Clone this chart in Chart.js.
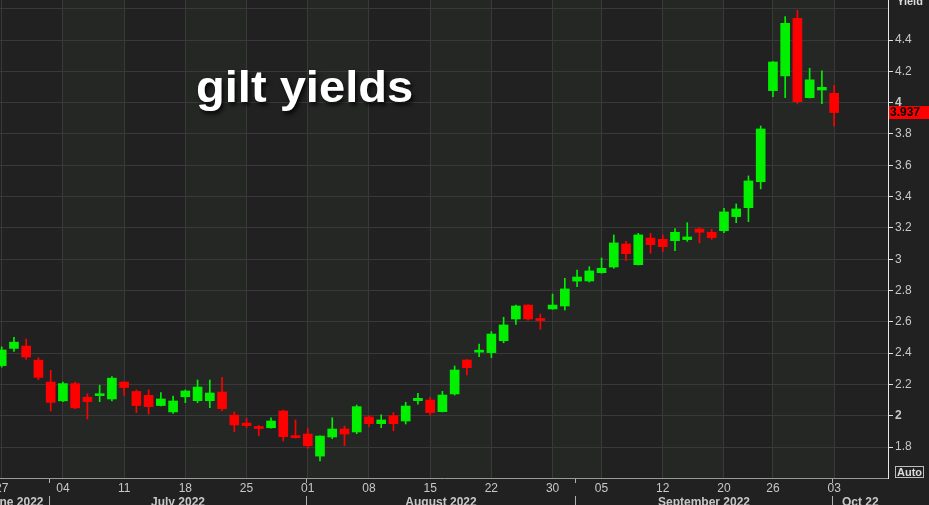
<!DOCTYPE html>
<html>
<head>
<meta charset="utf-8">
<title>gilt yields</title>
<script src="https://cdn.jsdelivr.net/npm/chart.js@4.4.1/dist/chart.umd.min.js"></script>
<style>
  html, body { margin: 0; padding: 0; background: #212122; overflow: hidden; }
  #wrap { position: relative; width: 929px; height: 505px; }
</style>
</head>
<body>
<div id="wrap"><canvas id="candles"></canvas></div>
<script>
// trading days shown (UK gilt market, 27 Jun - 3 Oct 2022)
var days = [
  "2022-06-27", "2022-06-28", "2022-06-29", "2022-06-30", "2022-07-01",
  "2022-07-04", "2022-07-05", "2022-07-06", "2022-07-07", "2022-07-08",
  "2022-07-11", "2022-07-12", "2022-07-13", "2022-07-14", "2022-07-15",
  "2022-07-18", "2022-07-19", "2022-07-20", "2022-07-21", "2022-07-22",
  "2022-07-25", "2022-07-26", "2022-07-27", "2022-07-28", "2022-07-29",
  "2022-08-01", "2022-08-02", "2022-08-03", "2022-08-04", "2022-08-05",
  "2022-08-08", "2022-08-09", "2022-08-10", "2022-08-11", "2022-08-12",
  "2022-08-15", "2022-08-16", "2022-08-17", "2022-08-18", "2022-08-19",
  "2022-08-22", "2022-08-23", "2022-08-24", "2022-08-25", "2022-08-26",
  "2022-08-30", "2022-08-31", "2022-09-01", "2022-09-02",
  "2022-09-05", "2022-09-06", "2022-09-07", "2022-09-08", "2022-09-09",
  "2022-09-12", "2022-09-13", "2022-09-14", "2022-09-15", "2022-09-16",
  "2022-09-20", "2022-09-21", "2022-09-22", "2022-09-23",
  "2022-09-26", "2022-09-27", "2022-09-28", "2022-09-29", "2022-09-30",
  "2022-10-03"
];

var opens = [2.32, 2.43, 2.445, 2.355, 2.215, 2.095, 2.205, 2.118, 2.128, 2.107,
  2.215, 2.155, 2.13, 2.065, 2.024, 2.121, 2.096, 2.096, 2.151, 2.004,
  1.953, 1.921, 1.923, 2.03, 1.87, 1.883, 1.742, 1.864, 1.915, 1.896,
  1.992, 1.949, 2.0, 1.966, 2.096, 2.1, 2.026, 2.139, 2.356, 2.406,
  2.403, 2.479, 2.618, 2.707, 2.612, 2.682, 2.701, 2.86, 2.861, 2.914,
  2.95, 3.097, 2.965, 3.135, 3.127, 3.118, 3.125, 3.193, 3.172, 3.182,
  3.272, 3.329, 3.495, 4.077, 4.171, 4.539, 4.032, 4.081, 4.06];

var highs = [2.44, 2.5, 2.49, 2.37, 2.29, 2.215, 2.215, 2.14, 2.195, 2.25,
  2.218, 2.165, 2.165, 2.147, 2.126, 2.165, 2.228, 2.228, 2.245, 2.024,
  1.983, 1.938, 1.987, 2.036, 1.973, 1.92, 1.872, 1.987, 1.934, 2.068,
  2.0, 2.006, 2.02, 2.086, 2.143, 2.118, 2.156, 2.318, 2.358, 2.458,
  2.537, 2.629, 2.707, 2.709, 2.65, 2.777, 2.878, 2.931, 2.952, 3.008,
  3.155, 3.114, 3.165, 3.165, 3.155, 3.195, 3.233, 3.201, 3.191, 3.325,
  3.353, 3.532, 3.851, 4.262, 4.55, 4.59, 4.22, 4.203, 4.111];

var lows = [2.31, 2.41, 2.36, 2.23, 2.03, 2.09, 2.045, 1.98, 2.09, 2.095,
  2.13, 2.02, 2.01, 2.062, 2.015, 2.083, 2.083, 2.051, 2.032, 1.898,
  1.923, 1.872, 1.921, 1.838, 1.857, 1.792, 1.711, 1.853, 1.808, 1.885,
  1.93, 1.923, 1.904, 1.947, 2.073, 2.003, 2.024, 2.132, 2.26, 2.377,
  2.371, 2.466, 2.584, 2.611, 2.552, 2.68, 2.675, 2.824, 2.854, 2.91,
  2.942, 2.99, 2.963, 3.038, 3.048, 3.054, 3.114, 3.104, 3.127, 3.169,
  3.233, 3.24, 3.449, 4.038, 4.032, 3.992, 4.03, 3.994, 3.851];

var closes = [2.42, 2.47, 2.375, 2.245, 2.085, 2.205, 2.05, 2.09, 2.132, 2.24,
  2.18, 2.065, 2.058, 2.107, 2.094, 2.158, 2.183, 2.145, 2.045, 1.941,
  1.937, 1.918, 1.966, 1.866, 1.86, 1.808, 1.87, 1.915, 1.883, 2.058,
  1.949, 1.973, 1.949, 2.062, 2.111, 2.02, 2.132, 2.292, 2.307, 2.412,
  2.522, 2.58, 2.701, 2.618, 2.608, 2.707, 2.81, 2.886, 2.925, 2.942,
  3.104, 3.035, 3.155, 3.093, 3.08, 3.172, 3.142, 3.172, 3.138, 3.302,
  3.321, 3.5, 3.832, 4.26, 4.507, 4.006, 4.146, 4.098, 3.937];

// axis labels
var weekTicks = [0, 5, 10, 15, 20, 25, 30, 35, 40, 45, 49, 54, 59, 63, 68];
var weekLabels = ["27", "04", "11", "18", "25", "01", "08", "15", "22", "30", "05", "12", "20", "26", "03"];
var monthStarts = [4, 25, 47, 68];
var monthLabels = ["June 2022", "July 2022", "August 2022", "September 2022", "Oct 22"];
var yTicks = [1.8, 2, 2.2, 2.4, 2.6, 2.8, 3, 3.2, 3.4, 3.6, 3.8, 4, 4.2, 4.4, 4.6];

var UP = "#00f000", DOWN = "#ff0000";

function candleColor(ctx) {
    var i = ctx.dataIndex;
    return closes[i] >= opens[i] ? UP : DOWN;
}

var bodies = days.map(function(d, i) { return {x: i, y: [opens[i], closes[i]]}; });
var wicks = days.map(function(d, i) { return {x: i, y: [lows[i], highs[i]]}; });

//Background and alternate week bands
var backdrop = {
    id: "backdrop",
    beforeDraw: function(chart) {
        var c = chart.ctx, a = chart.chartArea, xs = chart.scales.x;
        c.save();
        c.fillStyle = "#212122";
        c.fillRect(0, 0, chart.width, chart.height);
        c.fillStyle = "#252725";
        for (var k = 1; k + 1 < weekTicks.length; k += 2) {
            var x0 = xs.getPixelForValue(weekTicks[k]);
            var x1 = xs.getPixelForValue(weekTicks[k + 1]);
            c.fillRect(x0, a.top, x1 - x0, a.bottom - a.top);
        }
        c.restore();
    }
};

//Title, month row, last price box and the small axis decorations
var overlay = {
    id: "overlay",
    afterDraw: function(chart) {
        var c = chart.ctx, a = chart.chartArea, xs = chart.scales.x, ys = chart.scales.y;
        c.save();

        // month row
        c.font = "bold 12px 'Liberation Sans', Arial, sans-serif";
        c.fillStyle = "#c8c8c8";
        c.textBaseline = "alphabetic";
        var seps = monthStarts.map(function(i) { return Math.round(xs.getPixelForValue(i)) - 1.5; });
        c.strokeStyle = "#b0b0b0";
        c.lineWidth = 1;
        seps.forEach(function(s) {
            c.beginPath();
            c.moveTo(s, a.bottom + 1);
            c.lineTo(s, a.bottom + 5);
            c.moveTo(s, 496);
            c.lineTo(s, 505);
            c.stroke();
        });
        c.textAlign = "right";
        c.fillText(monthLabels[0], seps[0] - 6, 506);
        c.textAlign = "center";
        for (var m = 1; m < monthLabels.length; m++) {
            var left = seps[m - 1];
            var right = m < seps.length ? seps[m] : a.right;
            c.fillText(monthLabels[m], (left + right) / 2, 506);
        }

        // axis title and Auto button
        c.textAlign = "left";
        c.font = "bold 11px 'Liberation Sans', Arial, sans-serif";
        c.fillStyle = "#dcdcdc";
        c.fillText("Yield", 897, 5);
        c.strokeStyle = "#bdbdbd";
        c.strokeRect(895.5, 466.5, 28, 11);
        c.fillText("Auto", 897, 476);

        // last price box
        var last = closes[closes.length - 1];
        var py = ys.getPixelForValue(last);
        c.fillStyle = "#ff0000";
        c.fillRect(a.right + 1, py - 6.5, chart.width - a.right - 1, 13);
        c.fillStyle = "#000";
        c.font = "bold 12px 'Liberation Sans', Arial, sans-serif";
        c.textBaseline = "middle";
        c.fillText(last.toFixed(3), a.right + 2, py + 0.5);

        // big label
        c.translate(196, 102);
        c.scale(1.07, 1);
        c.font = "bold 44px 'Liberation Sans', Arial, sans-serif";
        c.textBaseline = "alphabetic";
        c.shadowColor = "rgba(0,0,0,0.85)";
        c.shadowOffsetX = 2;
        c.shadowOffsetY = 3;
        c.shadowBlur = 4;
        c.fillStyle = "#ffffff";
        c.fillText("gilt yields", 0, 0);
        c.restore();
    }
};

var ctx = document.getElementById("candles");

var chart = new Chart(ctx, {
    type: "bar",
    data: {
        datasets: [
            {
                label: "range",
                data: wicks,
                backgroundColor: candleColor,
                barThickness: 1,
                grouped: false,
                order: 1
            },
            {
                label: "body",
                data: bodies,
                backgroundColor: candleColor,
                barThickness: 9,
                minBarLength: 2,
                grouped: false,
                order: 0
            }
        ]
    },
    options: {
        responsive: true,
        maintainAspectRatio: false,
        animation: false,
        layout: { padding: 0 },
        plugins: {
            legend: { display: false },
            title: { display: false },
            tooltip: { enabled: false }
        },
        scales: {
            x: {
                type: "linear",
                min: -0.14,
                max: 72.4,
                offset: false,
                grid: { color: "#393939", drawTicks: false, offset: false },
                border: { color: "#9a9a9a" },
                afterBuildTicks: function(scale) {
                    scale.ticks = weekTicks.map(function(v) { return {value: v}; });
                },
                afterFit: function(scale) {
                    scale.height = 27;
                    scale.paddingLeft = 0;
                    scale.paddingRight = 0;
                },
                ticks: {
                    autoSkip: false,
                    maxRotation: 0,
                    padding: 3,
                    color: "#c8c8c8",
                    font: { family: "'Liberation Sans', Arial, sans-serif", size: 12 },
                    callback: function(value) {
                        var k = weekTicks.indexOf(value);
                        return k < 0 ? "" : weekLabels[k];
                    }
                }
            },
            y: {
                position: "right",
                min: 1.602,
                max: 4.656,
                grid: {
                    color: "#393939",
                    tickLength: 5,
                    tickColor: function(c) { return c.tick && c.tick.value > 4.5 ? "rgba(0,0,0,0)" : "#e0e0e0"; }
                },
                border: { color: "#e8e8e8" },
                afterBuildTicks: function(scale) {
                    scale.ticks = yTicks.map(function(v) { return {value: v}; });
                },
                afterFit: function(scale) {
                    scale.width = 41;
                    scale.paddingTop = 0;
                    scale.paddingBottom = 0;
                },
                ticks: {
                    padding: 2,
                    color: "#c8c8c8",
                    font: function(c) {
                        var v = c.tick ? c.tick.value : 0;
                        return {
                            family: "'Liberation Sans', Arial, sans-serif",
                            size: 12,
                            weight: (v === 2 || v === 4) ? "bold" : "normal"
                        };
                    },
                    callback: function(value) {
                        return value > 4.5 ? "" : String(value);
                    }
                }
            }
        }
    },
    plugins: [backdrop, overlay]
});
</script>
</body>
</html>
